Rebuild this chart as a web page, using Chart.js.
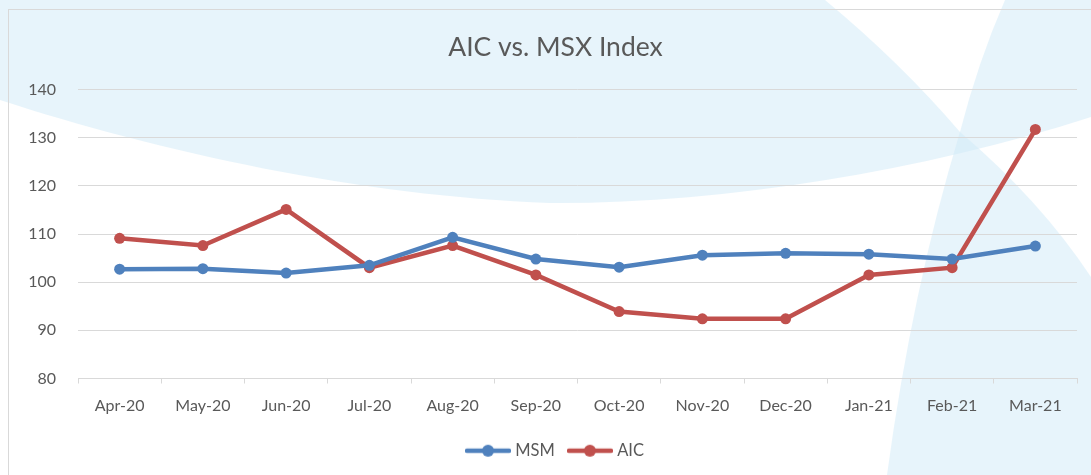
<!DOCTYPE html>
<html>
<head>
<meta charset="utf-8">
<title>AIC vs. MSX Index</title>
<script src="https://cdn.jsdelivr.net/npm/chart.js@4/dist/chart.umd.min.js"></script>
<style>
  html, body { margin: 0; padding: 0; background: #fff; }
</style>
</head>
<body>
<canvas id="chart" width="1091" height="475"></canvas>
<script>
// ================= data =================//
const months = ["Apr-20", "May-20", "Jun-20", "Jul-20", "Aug-20", "Sep-20",
                "Oct-20", "Nov-20", "Dec-20", "Jan-21", "Feb-21", "Mar-21"];
const msmValues = [102.7, 102.8, 101.9, 103.5, 109.3, 104.8, 103.1, 105.6, 106.0, 105.8, 104.8, 107.5];
const aicValues = [109.1, 107.6, 115.1, 103.0, 107.6, 101.5, 93.9, 92.4, 92.4, 101.5, 103.0, 131.7];
const yMin = 80;
const yMax = 140;
const yStep = 10;

const textColor = "#595959";
const gridColor = "#d9d9d9";
const msmColor = "#4f81bd";
const aicColor = "#c0504d";

// ================= background swooshes =================//
const swooshes = {
  id: 'swooshes',
  beforeDraw(chart) {
    const ctx = chart.ctx;
    ctx.save();
    ctx.fillStyle = "#fff";
    ctx.fillRect(0, 0, chart.width, chart.height);

    ctx.fillStyle = "rgba(207,234,248,0.5)";
    // big band across the top
    ctx.beginPath();
    ctx.moveTo(0, 0);
    ctx.lineTo(825, 0);
    ctx.quadraticCurveTo(900, 62, 960, 132);
    ctx.quadraticCurveTo(978, 62, 1005, 0);
    ctx.lineTo(1091, 0);
    ctx.lineTo(1091, 117);
    ctx.bezierCurveTo(920, 172, 720, 204, 550, 203);
    ctx.bezierCurveTo(360, 196, 160, 152, 0, 100);
    ctx.closePath();
    ctx.fill();

    // right-hand sweep
    ctx.beginPath();
    ctx.moveTo(960, 132);
    ctx.quadraticCurveTo(1040, 200, 1091, 277);
    ctx.lineTo(1091, 475);
    ctx.lineTo(887, 475);
    ctx.quadraticCurveTo(912, 290, 960, 132);
    ctx.closePath();
    ctx.fill();

    // chart frame
    ctx.strokeStyle = gridColor;
    ctx.lineWidth = 1;
    ctx.strokeRect(8.5, 9.5, 1200, 600);
    ctx.restore();
  }
};

// title and legend sit a little right of centre in the original
const boxNudge = {
  id: 'boxNudge',
  afterLayout(chart) {
    chart.legend.left += 18;
    chart.legend.right += 18;
    chart.titleBlock.left += 17;
    chart.titleBlock.right += 17;
  }
};

// ================= legend marks (line with dot) =================//
function legendMark(color) {
  const c = document.createElement('canvas');
  c.width = 46;
  c.height = 14;
  const g = c.getContext('2d');
  g.strokeStyle = color;
  g.lineWidth = 4.5;
  g.lineCap = 'round';
  g.beginPath();
  g.moveTo(2, 7);
  g.lineTo(44, 7);
  g.stroke();
  g.fillStyle = color;
  g.beginPath();
  g.arc(23, 7, 6, 0, Math.PI * 2);
  g.fill();
  return c;
}
const legendMarks = [legendMark(msmColor), legendMark(aicColor)];

Chart.defaults.font.family = "Lato, 'Liberation Sans', sans-serif";
Chart.defaults.color = textColor;

const chart = document.getElementById('chart');

new Chart(chart, {
  type: 'line',
  data: {
    labels: months,
    datasets: [{
      label: 'MSM',
      data: msmValues,
      borderColor: msmColor,
      backgroundColor: msmColor,
      borderWidth: 4.5,
      pointRadius: 5.5,
      pointBackgroundColor: msmColor,
      pointBorderWidth: 0,
      tension: 0
    }, {
      label: 'AIC',
      data: aicValues,
      borderColor: aicColor,
      backgroundColor: aicColor,
      borderWidth: 4.5,
      pointRadius: 5.5,
      pointBackgroundColor: aicColor,
      pointBorderWidth: 0,
      tension: 0
    }]
  },
  options: {
    responsive: false,
    animation: false,
    devicePixelRatio: 1,
    layout: {
      padding: { left: 0, right: 14, top: 0, bottom: 6 }
    },
    scales: {
      x: {
        offset: true,
        grid: {
          offset: true,
          drawOnChartArea: false,
          drawTicks: true,
          tickLength: 5,
          color: gridColor
        },
        border: { display: true, color: gridColor },
        ticks: {
          font: { size: 16 },
          color: textColor,
          padding: 13,
          maxRotation: 0,
          autoSkip: false
        },
        afterFit(scale) { scale.height = 48; }
      },
      y: {
        min: yMin,
        max: yMax,
        grid: {
          color: gridColor,
          drawTicks: false
        },
        border: { display: false },
        ticks: {
          stepSize: yStep,
          font: { size: 16 },
          color: textColor,
          padding: 22
        },
        afterFit(scale) { scale.width = 78; }
      }
    },
    plugins: {
      title: {
        display: true,
        text: 'AIC vs. MSX Index',
        color: textColor,
        font: { size: 26.5, weight: 'normal' },
        padding: { top: 31.1, bottom: 26.6 }
      },
      legend: {
        position: 'bottom',
        labels: {
          usePointStyle: true,
          pointStyleWidth: 38,
          padding: 16,
          color: textColor,
          font: { size: 16.5 },
          generateLabels(c) {
            const items = Chart.defaults.plugins.legend.labels.generateLabels(c);
            items.forEach((item, i) => { item.pointStyle = legendMarks[i]; });
            return items;
          }
        }
      },
      tooltip: { enabled: false }
    }
  },
  plugins: [swooshes, boxNudge]
});
</script>
</body>
</html>
